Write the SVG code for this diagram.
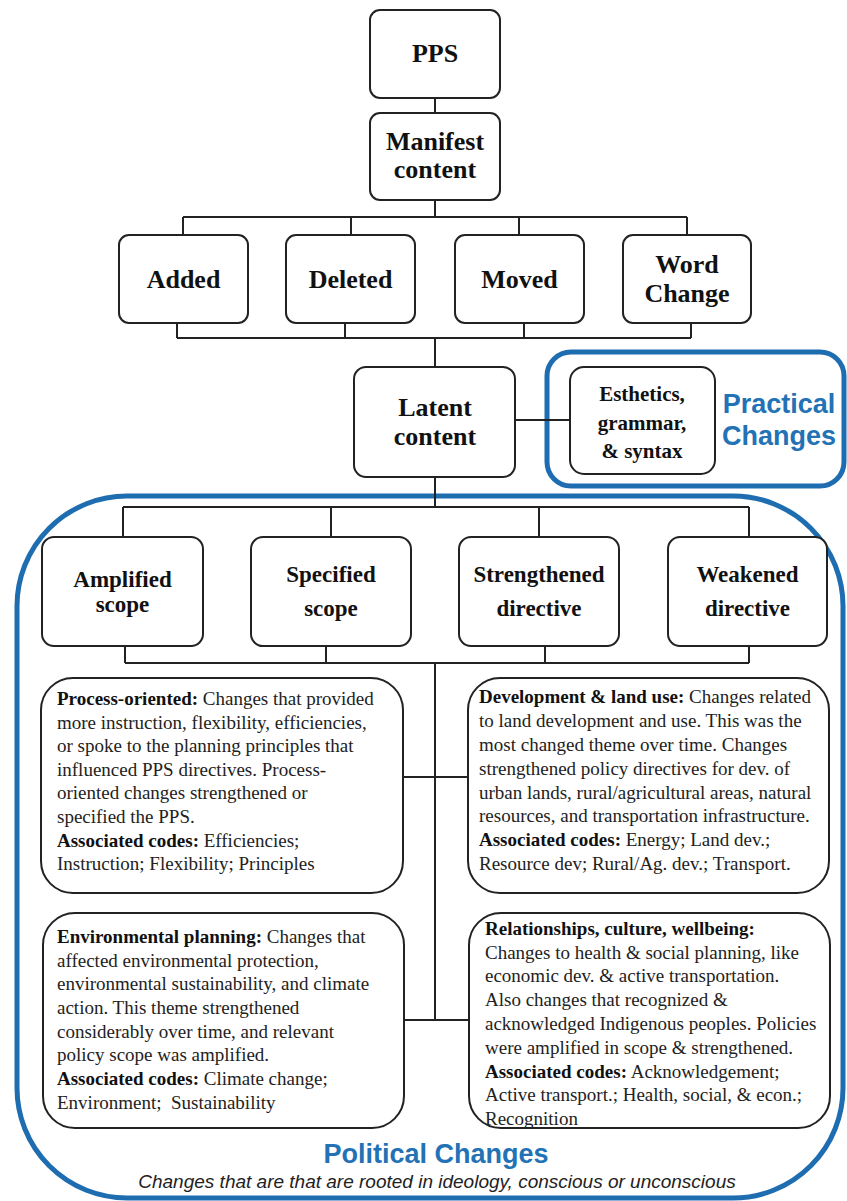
<svg xmlns="http://www.w3.org/2000/svg" width="847" height="1201" viewBox="0 0 847 1201">
<style>
.node rect{fill:#fff;stroke:#222;stroke-width:2}
.t{font-family:"Liberation Serif","Times New Roman",serif;font-weight:bold;font-size:26px;fill:#111;text-anchor:middle}
.t2{font-size:23px}
.t3{font-size:21px}
.body{font-family:"Liberation Serif","Times New Roman",serif;font-size:19px;fill:#222}
.b{font-weight:bold;fill:#111}
.conn{stroke:#222;stroke-width:2;fill:none}
.frame{fill:none;stroke:#1e6db0;stroke-width:5}
.blue{font-family:"Liberation Sans",Arial,sans-serif;font-weight:bold;font-size:27px;fill:#2272b5;text-anchor:middle}
.sub{font-family:"Liberation Sans",Arial,sans-serif;font-style:italic;font-size:19px;fill:#222;text-anchor:middle}
</style>
<rect width="847" height="1201" fill="#fff"/>
<g id="frames">
  <rect class="frame" x="547" y="352" width="297" height="134" rx="24"/>
  <rect class="frame" x="17" y="496" width="826" height="702" rx="110"/>
</g>
<g id="connectors">
  <path class="conn" d="M435 98V113M435 200V217M183 217H687M183 217V235M351 217V235M519 217V235M687 217V235"/>
  <path class="conn" d="M177 323V338M345 323V338M524 323V338M691 323V338M177 338H691M435 338V367"/>
  <path class="conn" d="M515 420H570"/>
  <path class="conn" d="M435 477V507M123 507H749M123 507V537M331 507V537M539 507V537M749 507V537"/>
  <path class="conn" d="M125 646V663M326 646V663M545 646V663M749 646V663M125 663H749M435 663V1020M403 777H468M404 1020H469"/>
</g>
<g id="pps" class="node"><rect x="370" y="10" width="130" height="88" rx="10"/><text class="t" x="435" y="62">PPS</text></g>
<g id="manifest" class="node"><rect x="370" y="113" width="130" height="87" rx="10"/><text class="t" x="435" y="150">Manifest</text><text class="t" x="435" y="178">content</text></g>
<g id="added" class="node"><rect x="119" y="235" width="129" height="88" rx="10"/><text class="t" x="183.5" y="288">Added</text></g>
<g id="deleted" class="node"><rect x="286" y="235" width="129" height="88" rx="10"/><text class="t" x="350.5" y="288">Deleted</text></g>
<g id="moved" class="node"><rect x="455" y="235" width="129" height="88" rx="10"/><text class="t" x="519.5" y="288">Moved</text></g>
<g id="wordchange" class="node"><rect x="623" y="235" width="128" height="88" rx="10"/><text class="t" x="687" y="273">Word</text><text class="t" x="687" y="302">Change</text></g>
<g id="latent" class="node"><rect x="354" y="367" width="161" height="110" rx="12"/><text class="t" x="435" y="416">Latent</text><text class="t" x="435" y="445">content</text></g>
<g id="esthetics" class="node"><rect x="570" y="367" width="145" height="107" rx="14"/><text class="t t3" x="642" y="401">Esthetics,</text><text class="t t3" x="642" y="430">grammar,</text><text class="t t3" x="642" y="458">&amp; syntax</text></g>
<g id="practical"><text class="blue" x="779" y="413">Practical</text><text class="blue" x="779" y="445">Changes</text></g>
<g id="amplified" class="node"><rect x="42" y="537" width="161" height="109" rx="12"/><text class="t t2" x="122.5" y="587">Amplified</text><text class="t t2" x="122.5" y="612">scope</text></g>
<g id="specified" class="node"><rect x="251" y="537" width="160" height="109" rx="12"/><text class="t t2" x="331" y="582">Specified</text><text class="t t2" x="331" y="616">scope</text></g>
<g id="strengthened" class="node"><rect x="459" y="537" width="160" height="109" rx="12"/><text class="t t2" x="539" y="582">Strengthened</text><text class="t t2" x="539" y="616">directive</text></g>
<g id="weakened" class="node"><rect x="668" y="537" width="159" height="109" rx="12"/><text class="t t2" x="747.5" y="582">Weakened</text><text class="t t2" x="747.5" y="616">directive</text></g>
<g id="process" class="node"><rect x="41" y="678" width="362" height="215" rx="32"/>
<text class="body" x="57">
<tspan x="57" y="705"><tspan class="b">Process-oriented:</tspan> Changes that provided</tspan>
<tspan x="57" y="729">more instruction, flexibility, efficiencies,</tspan>
<tspan x="57" y="752">or spoke to the planning principles that</tspan>
<tspan x="57" y="776">influenced PPS directives. Process-</tspan>
<tspan x="57" y="799">oriented changes strengthened or</tspan>
<tspan x="57" y="823">specified the PPS.</tspan>
<tspan x="57" y="847"><tspan class="b">Associated codes:</tspan> Efficiencies;</tspan>
<tspan x="57" y="870">Instruction; Flexibility; Principles</tspan>
</text></g>
<g id="development" class="node"><rect x="468" y="678" width="361" height="215" rx="32"/>
<text class="body" x="479">
<tspan x="479" y="703"><tspan class="b">Development &amp; land use:</tspan> Changes related</tspan>
<tspan x="479" y="727">to land development and use. This was the</tspan>
<tspan x="479" y="751">most changed theme over time. Changes</tspan>
<tspan x="479" y="775">strengthened policy directives for dev. of</tspan>
<tspan x="479" y="799">urban lands, rural/agricultural areas, natural</tspan>
<tspan x="479" y="822">resources, and transportation infrastructure.</tspan>
<tspan x="479" y="846"><tspan class="b">Associated codes:</tspan> Energy; Land dev.;</tspan>
<tspan x="479" y="870">Resource dev; Rural/Ag. dev.; Transport.</tspan>
</text></g>
<g id="environmental" class="node"><rect x="43" y="913" width="361" height="215" rx="32"/>
<text class="body" x="57" xml:space="preserve"><tspan x="57" y="943"><tspan class="b">Environmental planning:</tspan> Changes that</tspan><tspan x="57" y="967">affected environmental protection,</tspan><tspan x="57" y="990">environmental sustainability, and climate</tspan><tspan x="57" y="1014">action. This theme strengthened</tspan><tspan x="57" y="1038">considerably over time, and relevant</tspan><tspan x="57" y="1061">policy scope was amplified.</tspan><tspan x="57" y="1085"><tspan class="b">Associated codes:</tspan> Climate change;</tspan><tspan x="57" y="1109">Environment;  Sustainability</tspan></text></g>
<g id="relationships" class="node"><rect x="469" y="913" width="361" height="215" rx="32"/>
<text class="body" x="485">
<tspan x="485" y="935" class="b">Relationships, culture, wellbeing:</tspan>
<tspan x="485" y="959">Changes to health &amp; social planning, like</tspan>
<tspan x="485" y="982">economic dev. &amp; active transportation.</tspan>
<tspan x="485" y="1006">Also changes that recognized &amp;</tspan>
<tspan x="485" y="1030">acknowledged Indigenous peoples. Policies</tspan>
<tspan x="485" y="1054">were amplified in scope &amp; strengthened.</tspan>
<tspan x="485" y="1078"><tspan class="b">Associated codes:</tspan> Acknowledgement;</tspan>
<tspan x="485" y="1101">Active transport.; Health, social, &amp; econ.;</tspan>
<tspan x="485" y="1125">Recognition</tspan>
</text></g>
<g id="political"><text class="blue" x="436" y="1163">Political Changes</text><text class="sub" x="437" y="1188">Changes that are that are rooted in ideology, conscious or unconscious</text></g>
</svg>
